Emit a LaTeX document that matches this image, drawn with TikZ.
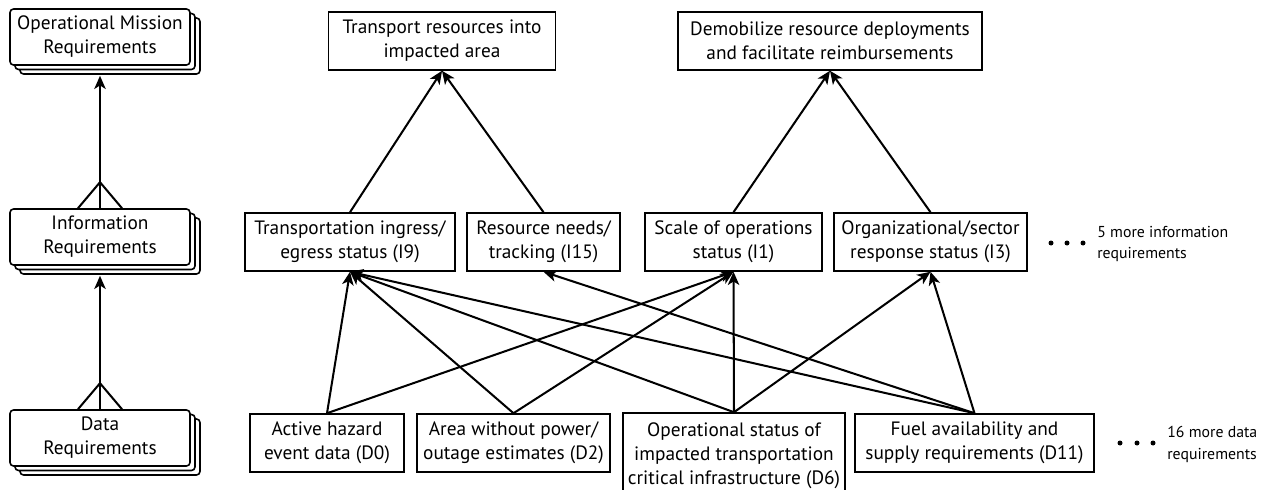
\documentclass[tikz,border=0pt]{standalone}
\usepackage{fontspec}
\setmainfont{PT Sans}
\usetikzlibrary{arrows.meta,shadows}

\begin{document}
\begin{tikzpicture}[x=0.02cm,y=-0.02cm,
	font=\fontsize{11}{13.7}\selectfont,
	box/.style={draw,line width=0.9pt,align=center,inner sep=0pt,minimum height=1.16cm},
	stack/.style={box,rounded corners=2pt,fill=white,minimum width=3.6cm,minimum height=1.12cm,
		copy shadow={shadow xshift=0.2cm,shadow yshift=-0.18cm,fill=white,draw,line width=0.9pt},
		copy shadow={shadow xshift=0.1cm,shadow yshift=-0.09cm,fill=white,draw,line width=0.9pt}},
	link/.style={line width=1.15pt,-{Stealth[length=7.5pt,width=6.5pt,inset=2pt]}},
	foot/.style={line width=1.15pt},
	more/.style={anchor=west,align=left,inner sep=0pt,font=\fontsize{9}{12.5}\selectfont}]
	\useasboundingbox (0,0) rectangle (1272,490);
	
	\node[stack] (omr) at (100,37) {Operational Mission\\Requirements};
	\node[stack] (info) at (100,237) {Information\\Requirements};
	\node[stack] (data) at (100,438) {Data\\Requirements};
	
	\draw[link,shorten >=0.2cm] (info.north) -- (omr.south);
	\draw[link,shorten >=0.2cm] (data.north) -- (info.south);
	\draw[foot] ([xshift=-0.44cm]info.north) -- ([yshift=0.52cm]info.north) -- ([xshift=0.44cm]info.north);
	\draw[foot] ([xshift=-0.44cm]data.north) -- ([yshift=0.52cm]data.north) -- ([xshift=0.44cm]data.north);
	
	\node[box,minimum width=4.54cm] (transport) at (442,41) {Transport resources into\\impacted area};
	\node[box,minimum width=6.08cm] (demob) at (830,41) {Demobilize resource deployments\\and facilitate reimbursements};
	
	\node[box,minimum width=4.2cm] (i9) at (350,242) {Transportation ingress/\\egress status (I9)};
	\node[box,minimum width=3.06cm] (i15) at (543.5,242) {Resource needs/\\tracking (I15)};
	\node[box,minimum width=3.54cm] (i1) at (733.5,242) {Scale of operations\\status (I1)};
	\node[box,minimum width=3.86cm] (i3) at (930.5,242) {Organizational/sector\\response status (I3)};
	
	\node[box,minimum width=3.08cm] (d0) at (327,443) {Active hazard\\event data (D0)};
	\node[box,minimum width=3.86cm] (d2) at (513.5,443) {Area without power/\\outage estimates (D2)};
	\node[box,minimum width=4.44cm,minimum height=1.72cm] (d6) at (734,456) {Operational status of\\impacted transportation\\critical infrastructure (D6)};
	\node[box,minimum width=4.78cm] (d11) at (974.5,443) {Fuel availability and\\supply requirements (D11)};
	
	\draw[link] (i9.north) -- (transport.south);
	\draw[link] (i15.north) -- (transport.south);
	\draw[link] (i1.north) -- (demob.south);
	\draw[link] (i3.north) -- (demob.south);
	
	\foreach \a/\b in {d0/i9,d0/i1,d2/i9,d2/i1,d6/i9,d6/i1,d6/i3,d11/i9,d11/i15,d11/i3}
		\draw[link] (\a.north) -- (\b.south);
	
	\foreach \x in {1051,1067,1083}
		\fill (\x,243) circle[radius=0.05cm];
	\foreach \x in {1120,1137,1153}
		\fill (\x,443) circle[radius=0.05cm];
	\node[more] (moreinfo) at (1097,244) {5 more information\\requirements};
	\node[more] (moredata) at (1167,444) {16 more data\\requirements};
\end{tikzpicture}
\end{document}
